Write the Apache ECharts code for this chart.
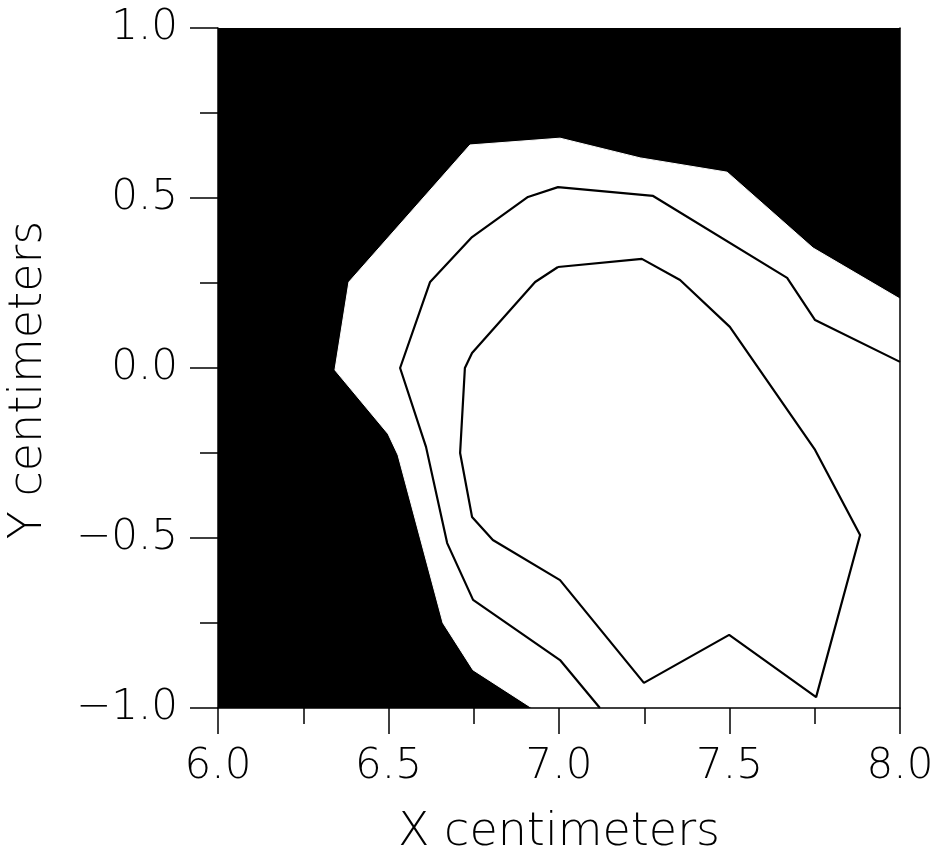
<!DOCTYPE html>
<html>
<head>
<meta charset="utf-8">
<script src="https://cdn.jsdelivr.net/npm/echarts@6/dist/echarts.min.js"></script>
<style>
  html, body { margin: 0; padding: 0; background: #fff; }
  #chart { width: 938px; height: 860px; }
</style>
</head>
<body>
<div id="chart"></div>
<script>
// Outer contour: boundary of the white (inside) region
const outerX = [6.921, 6.748, 6.660, 6.528, 6.499, 6.343, 6.384, 6.739, 7.003, 7.238, 7.493, 7.745, 8.000, 8.000];
const outerY = [-1.000, -0.888, -0.750, -0.256, -0.194, -0.006, 0.253, 0.656, 0.676, 0.618, 0.576, 0.353, 0.203, -1.000];

// Middle contour line (open, runs from bottom edge to right edge)
const midX = [7.120, 7.003, 6.748, 6.672, 6.610, 6.534, 6.622, 6.745, 6.909, 6.997, 7.276, 7.669, 7.751, 8.000];
const midY = [-1.000, -0.859, -0.682, -0.515, -0.232, 0.000, 0.253, 0.385, 0.503, 0.532, 0.506, 0.265, 0.141, 0.018];

// Inner contour line (closed loop)
const innerX = [6.997, 7.243, 7.355, 7.501, 7.751, 7.883, 7.754, 7.499, 7.249, 7.003, 6.806, 6.745, 6.710, 6.724, 6.745, 6.930, 6.997];
const innerY = [0.297, 0.321, 0.259, 0.121, -0.241, -0.491, -0.968, -0.785, -0.926, -0.624, -0.506, -0.438, -0.250, 0.000, 0.044, 0.253, 0.297];

const xRange = [6.0, 8.0];
const yRange = [-1.0, 1.0];
const tickStep = 0.5;
const xTitle = 'X centimeters';
const yTitle = 'Y centimeters';

const zip = (xs, ys) => xs.map((x, i) => [x, ys[i]]);
const fmt = v => (v < 0 ? '\u2212' : '') + Math.abs(v).toFixed(1);

const labelFont = { color: '#000', fontFamily: 'DejaVu Sans', fontWeight: 200, fontSize: 42 };
const titleFont = { color: '#000', fontFamily: 'DejaVu Sans', fontWeight: 200, fontSize: 46 };

const chart = echarts.init(document.getElementById('chart'), null, { renderer: 'canvas' });
chart.setOption({
  animation: false,
  backgroundColor: '#fff',
  grid: { left: 218, right: 38, top: 28, bottom: 152, show: true, backgroundColor: '#000', borderWidth: 0, containLabel: false, outerBoundsMode: 'none' },
  xAxis: [{
    type: 'value', min: xRange[0], max: xRange[1], interval: tickStep, z: 10,
    name: xTitle, nameLocation: 'middle', nameGap: 102, nameTextStyle: titleFont,
    axisLine: { show: true, onZero: false, lineStyle: { color: '#000', width: 1.5 } },
    axisTick: { show: true, length: 26, lineStyle: { color: '#000', width: 1.5 } },
    minorTick: { show: true, splitNumber: 2, length: 16, lineStyle: { color: '#000', width: 1.5 } },
    axisLabel: Object.assign({ margin: 38, formatter: fmt }, labelFont),
    splitLine: { show: false }
  }, {
    type: 'value', position: 'top', min: xRange[0], max: xRange[1], z: 10,
    axisLine: { show: true, onZero: false, lineStyle: { color: '#000', width: 1 } },
    axisTick: { show: false }, axisLabel: { show: false }, splitLine: { show: false }
  }],
  yAxis: [{
    type: 'value', min: yRange[0], max: yRange[1], interval: tickStep, z: 10,
    name: yTitle, nameLocation: 'middle', nameGap: 166, nameRotate: 90,
    nameTextStyle: Object.assign({ padding: [0, 24, 0, 0] }, titleFont),
    axisLine: { show: true, onZero: false, lineStyle: { color: '#000', width: 1.5 } },
    axisTick: { show: true, length: 28, lineStyle: { color: '#000', width: 1.5 } },
    minorTick: { show: true, splitNumber: 2, length: 18, lineStyle: { color: '#000', width: 1.5 } },
    axisLabel: Object.assign({ margin: 40, formatter: fmt }, labelFont),
    splitLine: { show: false }
  }, {
    type: 'value', position: 'right', min: yRange[0], max: yRange[1], z: 10,
    axisLine: { show: true, onZero: false, lineStyle: { color: '#000', width: 1.5 } },
    axisTick: { show: false }, axisLabel: { show: false }, splitLine: { show: false }
  }],
  series: [{
    type: 'custom',
    coordinateSystem: 'cartesian2d',
    xAxisIndex: 0, yAxisIndex: 0,
    clip: true, silent: true, z: 1,
    data: zip(outerX, outerY),
    renderItem: function (params, api) {
      if (params.dataIndex !== 0) return null;
      const pts = outerX.map((x, i) => api.coord([x, outerY[i]]));
      return { type: 'polygon', shape: { points: pts }, style: { fill: '#fff', stroke: '#fff', lineWidth: 1 } };
    }
  }, {
    type: 'line', xAxisIndex: 0, yAxisIndex: 0, z: 3,
    data: zip(midX, midY), showSymbol: false, symbol: 'none', clip: true,
    lineStyle: { color: '#000', width: 2.2 }
  }, {
    type: 'line', xAxisIndex: 0, yAxisIndex: 0, z: 3,
    data: zip(innerX, innerY), showSymbol: false, symbol: 'none', clip: true,
    lineStyle: { color: '#000', width: 2.2 }
  }]
});
</script>
</body>
</html>
